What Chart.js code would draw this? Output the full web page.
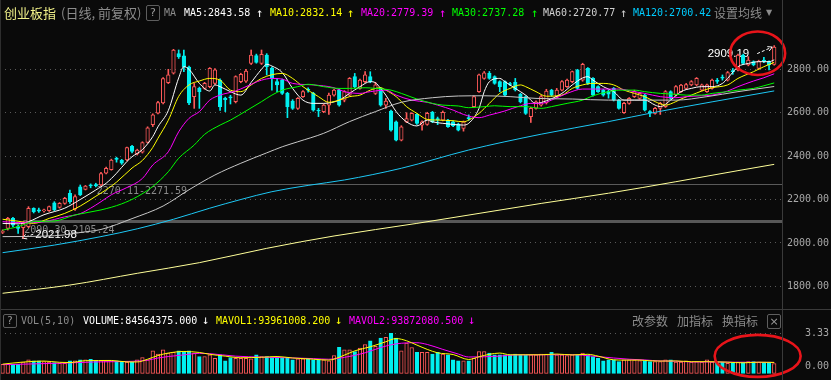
<!DOCTYPE html>
<html><head><meta charset="utf-8">
<script src="https://cdn.jsdelivr.net/npm/chart.js@4/dist/chart.umd.min.js"></script>
<style>
html,body{margin:0;padding:0;background:#0a0a0a;}
#wrap{position:relative;width:831px;height:380px;overflow:hidden;background:#0a0a0a;font-family:'DejaVu Sans Mono',monospace;font-size:10px;}
canvas{position:absolute;left:0;}
.t{position:absolute;white-space:nowrap;}
.r1{top:0;height:26px;line-height:26px;}
.r2{top:309px;height:23px;line-height:23px;}
.cjk{font-family:'Noto Sans CJK SC',sans-serif;}
.box{position:absolute;border:1px solid #5e5e5e;border-radius:2px;color:#9a9a9a;text-align:center;box-sizing:border-box;font-family:'DejaVu Sans',sans-serif;}
.ln{position:absolute;background:#3a3a3a;}
</style></head><body>
<div id="wrap">
<canvas id="main" width="831" height="309" style="top:0"></canvas>
<canvas id="vol" width="831" height="71" style="top:309px"></canvas>
<div class="ln" style="left:0;top:309px;width:831px;height:1px"></div>
<div class="ln" style="left:782px;top:0;width:1px;height:380px"></div>
<div class="ln" style="left:0;top:0;width:1px;height:380px;background:#2e2e2e"></div>

<div class="t r1 cjk" style="left:4px;font-size:13px;color:#f2f28a">创业板指</div>
<div class="t r1 cjk" style="left:61px;font-size:13px;color:#8c8c8c">(日线, 前复权)</div>
<div class="box" style="left:146px;top:5px;width:14px;height:16px;line-height:14px;font-size:11px">?</div>
<div class="t r1" style="left:164px;color:#8c8c8c">MA</div>
<div class="t r1" style="left:184px;color:#ffffff">MA5:2843.58</div>
<div class="t r1" style="left:256px;color:#ffffff;font-size:12px">↑</div>
<div class="t r1" style="left:270px;color:#ffff00">MA10:2832.14</div>
<div class="t r1" style="left:347px;color:#ffff00;font-size:12px">↑</div>
<div class="t r1" style="left:361px;color:#ff00ff">MA20:2779.39</div>
<div class="t r1" style="left:439px;color:#ff00ff;font-size:12px">↑</div>
<div class="t r1" style="left:452px;color:#00ff00">MA30:2737.28</div>
<div class="t r1" style="left:531px;color:#00ff00;font-size:12px">↑</div>
<div class="t r1" style="left:543px;color:#d0d0d0">MA60:2720.77</div>
<div class="t r1" style="left:620px;color:#d0d0d0;font-size:12px">↑</div>
<div class="t r1" style="left:633px;color:#00ccff">MA120:2700.42</div>
<div class="t r1 cjk" style="left:714px;font-size:12px;color:#8c8c8c">设置均线</div>
<div class="t r1" style="left:766px;font-size:8px;color:#8c8c8c;font-family:'DejaVu Sans'">▼</div>

<div class="box" style="left:3px;top:314px;width:14px;height:14px;line-height:12px;font-size:10px">?</div>
<div class="t r2" style="left:21px;color:#8c8c8c">VOL(5,10)</div>
<div class="t r2" style="left:83px;color:#ffffff">VOLUME:84564375.000</div>
<div class="t r2" style="left:202px;color:#ffffff;font-size:12px">↓</div>
<div class="t r2" style="left:216px;color:#ffff00">MAVOL1:93961008.200</div>
<div class="t r2" style="left:335px;color:#ffff00;font-size:12px">↓</div>
<div class="t r2" style="left:349px;color:#ff00ff">MAVOL2:93872080.500</div>
<div class="t r2" style="left:468px;color:#ff00ff;font-size:12px">↓</div>
<div class="t r2 cjk" style="left:632px;font-size:12px;color:#8c8c8c">改参数</div>
<div class="t r2 cjk" style="left:677px;font-size:12px;color:#8c8c8c">加指标</div>
<div class="t r2 cjk" style="left:722px;font-size:12px;color:#8c8c8c">换指标</div>
<div class="box" style="left:767px;top:314px;width:14px;height:15px;line-height:13px;font-size:11px">×</div>
</div>
<script>
// ---------- data ----------
const opens = [2048,2067,2113,2075,2070,2075,2159,2152,2148,2149, 2185,2164,2182,2228,2155,2259,2247,2266,2268,2267,
 2321,2338,2388,2380,2382,2445,2410,2418,2463,2545, 2598,2645,2738,2782,2873,2862,2810,2674,2712,2712,
 2720,2735,2750,2666,2672,2651,2743,2745,2827,2863, 2827,2866,2804,2743,2750,2689,2654,2620,2674,2708,
 2689,2612,2605,2635,2681,2704,2658,2681,2766,2712, 2743,2766,2689,2712,2635,2608,2558,2474,2558,2566,
 2592,2543,2546,2602,2572,2566,2566,2558,2548,2528, 2577,2628,2697,2758,2781,2766,2743,2743,2734,2740,
 2685,2674,2582,2620,2635,2645,2704,2674,2704,2720, 2743,2797,2750,2804,2758,2720,2704,2700,2712,2658,
 2600,2643,2674,2666,2681,2603,2597,2620,2628,2697, 2681,2697,2712,2728,2728,2704,2697,2712,2747,2762,
 2750,2792,2797,2866,2820,2835,2804,2842,2835,2823];
const closes = [2054,2113,2082,2067,2090,2159,2144,2146,2150,2167, 2152,2182,2205,2190,2213,2221,2262,2263,2264,2320,
 2344,2382,2385,2368,2439,2422,2428,2462,2530,2590, 2647,2757,2775,2888,2858,2812,2645,2720,2697,2735,
 2804,2797,2628,2660,2668,2766,2777,2792,2866,2832, 2869,2812,2758,2728,2689,2628,2620,2666,2697,2704,
 2612,2608,2635,2681,2704,2635,2697,2758,2720,2750, 2774,2743,2728,2635,2654,2520,2474,2535,2573,2597,
 2551,2558,2597,2558,2568,2602,2536,2540,2520,2558, 2573,2674,2774,2784,2758,2735,2720,2681,2730,2705,
 2650,2597,2620,2650,2674,2700,2681,2704,2743,2750, 2789,2712,2823,2735,2681,2697,2681,2685,2658,2620,
 2643,2666,2697,2689,2612,2600,2620,2643,2697,2666, 2720,2727,2730,2743,2758,2728,2728,2750,2744,2759,
 2785,2789,2866,2827,2843,2820,2838,2838,2820,2902];
const highs = [2060,2118,2118,2082,2098,2167,2162,2160,2156,2170, 2190,2186,2210,2244,2221,2267,2265,2272,2275,2325,
 2350,2386,2395,2385,2442,2450,2432,2466,2535,2595, 2652,2762,2800,2892,2889,2889,2815,2735,2718,2740,
 2808,2803,2756,2672,2680,2770,2782,2800,2889,2870, 2889,2872,2810,2758,2755,2694,2660,2670,2702,2715,
 2694,2620,2640,2690,2708,2710,2702,2762,2781,2755, 2789,2789,2740,2716,2666,2612,2562,2540,2600,2600,
 2596,2562,2602,2606,2580,2608,2570,2562,2552,2562, 2590,2678,2778,2790,2790,2770,2747,2747,2740,2758,
 2689,2678,2625,2655,2680,2708,2708,2712,2748,2755, 2792,2800,2828,2808,2762,2724,2708,2705,2716,2662,
 2648,2670,2704,2693,2685,2610,2625,2648,2702,2701, 2725,2731,2735,2748,2762,2732,2732,2755,2758,2774,
 2790,2804,2870,2870,2858,2839,2842,2855,2839,2909.19];
const lows = [2043,2059,2075,2044,2021.98,2070,2138,2140,2142,2145, 2148,2160,2178,2182,2150,2218,2244,2254,2258,2264,
 2318,2335,2372,2362,2378,2415,2405,2414,2460,2536, 2594,2640,2734,2778,2850,2789,2637,2620,2620,2708,
 2715,2730,2610,2605,2640,2645,2738,2740,2822,2828, 2822,2774,2704,2697,2684,2577,2615,2615,2670,2695,
 2607,2582,2600,2592,2676,2630,2650,2676,2715,2708, 2738,2738,2684,2630,2620,2515,2470,2470,2554,2562,
 2546,2520,2542,2554,2545,2562,2532,2536,2516,2515, 2565,2624,2693,2754,2754,2731,2697,2677,2725,2700,
 2645,2592,2555,2616,2630,2640,2676,2670,2700,2716, 2738,2708,2745,2730,2676,2693,2676,2667,2654,2616,
 2597,2639,2670,2662,2608,2582,2593,2592,2624,2662, 2677,2693,2708,2724,2724,2700,2693,2708,2735,2750,
 2746,2777,2793,2823,2816,2816,2800,2830,2797,2819];
// volume in 1e8 shares
const volumes = [0.79,0.79,0.79,0.79,0.96,1.15,1.06,1.06,1.01,0.96, 0.93,0.87,0.87,1.06,1.06,1.15,1.15,1.20,1.09,1.09,
 1.06,1.06,1.06,0.96,0.96,0.96,1.15,1.34,1.15,1.88, 1.61,1.97,1.69,1.75,1.88,1.83,1.88,1.69,1.42,1.42,
 1.56,1.28,1.56,1.06,1.34,1.28,1.28,1.28,1.23,1.56, 1.42,1.42,1.34,1.34,1.28,1.34,1.15,1.23,1.23,1.28,
 1.15,1.15,1.15,1.06,1.50,2.16,1.97,1.97,1.83,2.10, 2.38,2.70,2.24,2.92,2.98,3.33,2.92,1.88,2.51,2.15,
 1.75,1.75,1.75,1.61,1.75,1.61,1.56,1.15,1.06,1.06, 1.06,1.28,1.83,1.83,1.69,1.56,1.56,1.56,1.56,1.61,
 1.56,1.56,1.56,1.56,1.61,1.61,1.75,1.56,1.56,1.50, 1.56,1.56,1.69,1.56,1.42,1.28,1.06,1.15,1.15,1.01,
 1.15,1.15,1.15,1.09,1.09,1.01,1.01,1.01,1.15,1.15, 0.96,0.96,1.06,0.96,1.01,0.96,1.15,0.96,0.96,0.96,
 0.87,0.87,0.96,0.96,1.01,1.01,0.96,0.96,0.96,0.85];
// moving-average lines: [day index, value]
const ma5Pts = [[0,2090],[3,2088],[5,2098],[8,2130],[12,2160],[15,2200],[18,2244],[20,2275],[22,2321],[24,2375],[25,2397],[27,2430],[29,2490],[30,2535],[32,2610],[34,2760],[35,2812],[36,2800],[38,2735],[40,2700],[41,2728],[42,2720],[44,2697],[46,2681],[48,2740],[50,2800],[51,2823],[52,2815],[54,2785],[56,2712],[58,2658],[60,2643],[62,2643],[65,2658],[67,2689],[69,2720],[71,2743],[72,2738],[73,2712],[74,2681],[76,2605],[78,2558],[80,2539],[82,2566],[83,2558],[85,2551],[87,2546],[89,2543],[90,2551],[92,2620],[93,2697],[94,2743],[96,2758],[97,2743],[99,2712],[101,2681],[103,2643],[105,2655],[108,2689],[110,2728],[112,2760],[113,2766],[114,2750],[116,2720],[118,2697],[120,2658],[122,2658],[124,2658],[126,2635],[127,2628],[129,2658],[131,2697],[133,2712],[135,2720],[137,2720],[139,2735],[140,2758],[142,2812],[144,2827],[146,2835],[148,2835],[149,2843.58]];
const ma10Pts = [[0,2109],[3,2100],[6,2090],[9,2113],[12,2136],[15,2170],[18,2215],[20,2245],[22,2280],[25,2345],[27,2380],[29,2440],[30,2482],[32,2565],[34,2675],[36,2728],[38,2746],[40,2758],[42,2750],[44,2704],[46,2697],[48,2728],[50,2758],[52,2775],[54,2781],[56,2758],[58,2720],[61,2674],[63,2648],[65,2658],[67,2674],[69,2681],[71,2704],[73,2715],[74,2704],[76,2674],[78,2628],[80,2597],[82,2569],[84,2566],[87,2563],[89,2558],[90,2566],[92,2597],[94,2643],[96,2689],[98,2712],[100,2728],[101,2720],[103,2697],[105,2676],[108,2681],[110,2712],[112,2728],[114,2735],[116,2735],[118,2728],[120,2704],[122,2689],[124,2674],[126,2651],[128,2635],[130,2651],[131,2663],[133,2681],[135,2700],[137,2715],[140,2728],[142,2758],[145,2789],[147,2812],[149,2832.14]];
const ma20Pts = [[0,2098],[4,2093],[8,2098],[12,2120],[15,2135],[17,2160],[19,2190],[21,2222],[24,2255],[27,2297],[29,2359],[32,2420],[34,2512],[36,2574],[38,2605],[40,2658],[42,2681],[45,2700],[47,2720],[50,2750],[52,2758],[54,2755],[56,2735],[60,2728],[64,2715],[66,2697],[69,2689],[71,2697],[74,2704],[76,2681],[79,2658],[82,2648],[84,2635],[87,2612],[89,2592],[92,2577],[94,2589],[97,2608],[100,2632],[102,2643],[104,2643],[106,2658],[109,2689],[112,2709],[116,2709],[119,2709],[122,2697],[124,2689],[127,2674],[130,2669],[132,2674],[135,2678],[137,2681],[140,2700],[142,2720],[145,2746],[147,2761],[149,2779.39]];
const ma30Pts = [[0,2059],[3,2075],[6,2098],[10,2101],[14,2129],[19,2152],[23,2180],[26,2213],[29,2260],[32,2328],[34,2390],[37,2451],[39,2500],[42,2543],[44,2566],[47,2608],[50,2651],[52,2681],[54,2704],[57,2720],[59,2731],[62,2720],[65,2712],[67,2712],[70,2715],[72,2712],[75,2704],[77,2689],[80,2663],[83,2643],[85,2635],[88,2631],[90,2623],[93,2628],[95,2632],[98,2628],[101,2628],[104,2620],[106,2628],[109,2643],[112,2658],[114,2678],[117,2697],[119,2704],[122,2704],[124,2697],[127,2689],[130,2685],[132,2681],[135,2681],[137,2689],[140,2697],[142,2704],[145,2712],[147,2724],[149,2737.28]];
const ma60Pts = [[0,2029],[8,2031],[12,2037],[15,2048],[19,2062],[25,2112],[31,2170],[36,2245],[41,2313],[46,2367],[51,2415],[54,2443],[57,2466],[62,2505],[67,2559],[72,2605],[77,2648],[83,2669],[88,2677],[93,2678],[98,2674],[103,2666],[110,2663],[117,2658],[123,2658],[130,2658],[136,2674],[142,2697],[149,2720.77]];
const ma120Pts = [[0,1955],[10,1990],[19,2029],[26,2065],[33,2109],[40,2160],[46,2200],[52,2236],[59,2265],[66,2290],[77,2344],[90,2428],[104,2501],[117,2559],[126,2602],[137,2650],[149,2700.42]];
const ma250Pts = [[0,1768],[13,1806],[26,1860],[38,1909],[51,1975],[64,2032],[80,2090],[104,2182],[117,2229],[130,2282],[142,2333],[149,2362]];
const mavol1Pts = [[0,0.80],[4,0.97],[8,1.05],[11,0.95],[13,0.93],[16,1.08],[21,1.10],[24,0.98],[26,0.98],[28,1.20],[30,1.50],[32,1.70],[35,1.83],[38,1.75],[40,1.60],[43,1.45],[46,1.32],[50,1.36],[53,1.42],[56,1.30],[60,1.20],[63,1.13],[65,1.36],[68,1.88],[71,2.21],[74,2.62],[76,2.88],[78,2.70],[80,2.35],[82,2.00],[84,1.72],[87,1.58],[90,1.18],[92,1.40],[94,1.60],[96,1.70],[98,1.56],[101,1.56],[104,1.56],[107,1.62],[110,1.55],[113,1.60],[115,1.45],[118,1.15],[120,1.13],[123,1.13],[125,1.07],[128,1.05],[130,1.06],[133,1.00],[136,1.00],[140,0.96],[143,0.91],[146,0.96],[149,0.94]];
const mavol2Pts = [[0,0.76],[6,0.82],[12,0.89],[18,0.98],[25,1.03],[28,1.12],[30,1.30],[32,1.42],[35,1.55],[38,1.68],[40,1.65],[45,1.45],[50,1.37],[55,1.32],[60,1.25],[63,1.20],[66,1.35],[70,1.72],[73,2.15],[76,2.45],[80,2.54],[82,2.40],[85,2.00],[88,1.62],[90,1.38],[93,1.40],[96,1.45],[99,1.55],[104,1.56],[110,1.57],[114,1.45],[118,1.30],[121,1.20],[124,1.14],[127,1.06],[130,1.04],[133,0.98],[137,0.98],[141,0.96],[145,0.95],[149,0.94]];
// drawn price bands: low, high, starting day
const bandLow = [2090.30, 2270.11];
const bandHigh = [2105.24, 2271.59];
const bandStart = [4, 18];
const priceTicks = [1800, 2000, 2200, 2400, 2600, 2800];
const volTicks = [0, 3.33];
// 151 day slots (the last one is left empty)
const days = Array.from({length: 151}, (_, k) => 'D' + (k + 1));

// ---------- helpers ----------
const RED = '#ff5a5a', CYAN = '#00f0f0', BG = '#0a0a0a';
const isUp = opens.map((o, k) => closes[k] >= o);
function fromPairs(pairs) { const a = new Array(opens.length).fill(null); pairs.forEach(([i, v]) => { a[i] = v; }); return a; }
function maLine(label, pairs, color) {
  return {type: 'line', label, data: fromPairs(pairs), borderColor: color, borderWidth: 1, pointRadius: 0,
          spanGaps: true, cubicInterpolationMode: 'monotone', order: 0};
}
const MONO = '"DejaVu Sans Mono", monospace';
const noPad = s => { s.width = 49; s.paddingTop = 0; s.paddingBottom = 0; };

function arrow(ctx, x1, y1, x2, y2) {
  ctx.beginPath(); ctx.setLineDash([3, 2]); ctx.moveTo(x1, y1); ctx.lineTo(x2, y2); ctx.stroke();
  ctx.setLineDash([]);
  const a = Math.atan2(y2 - y1, x2 - x1);
  ctx.beginPath();
  ctx.moveTo(x2 - 5 * Math.cos(a - 0.5), y2 - 5 * Math.sin(a - 0.5));
  ctx.lineTo(x2, y2);
  ctx.lineTo(x2 - 5 * Math.cos(a + 0.5), y2 - 5 * Math.sin(a + 0.5));
  ctx.stroke();
}

const mainDeco = {
  id: 'mainDeco',
  beforeDatasetsDraw(chart) {
    const {ctx, chartArea: ca, scales: {x, y}} = chart;
    ctx.save();
    bandLow.forEach((lo, k) => {
      const x0 = x.getPixelForValue(bandStart[k]);
      const yt = y.getPixelForValue(bandHigh[k]);
      const yb = y.getPixelForValue(lo);
      ctx.fillStyle = k === 0 ? '#585858' : '#5a5a5a';
      ctx.fillRect(x0, Math.round(yt), ca.right - x0, Math.max(1, Math.round(yb - yt)));
      ctx.fillStyle = '#8a8a8a';
      ctx.font = '10px ' + MONO;
      ctx.textBaseline = 'top'; ctx.textAlign = 'left';
      ctx.fillText(lo.toFixed(2) + '-' + bandHigh[k].toFixed(2), x0 + 1, yb + 2);
    });
    // highest / lowest labels
    let hi = 0, lo = 0;
    highs.forEach((v, k) => { if (v > highs[hi]) hi = k; });
    lows.forEach((v, k) => { if (v < lows[lo]) lo = k; });
    ctx.fillStyle = '#ffffff'; ctx.strokeStyle = '#ffffff'; ctx.lineWidth = 1;
    ctx.font = '11.5px "Liberation Sans", Arial, sans-serif';
    ctx.textBaseline = 'alphabetic';
    const hx = x.getPixelForValue(hi), hy = y.getPixelForValue(highs[hi]);
    ctx.textAlign = 'right';
    ctx.fillText(highs[hi].toFixed(2), hx - 25, hy + 11.5);
    arrow(ctx, hx - 17, hy + 8, hx - 2, hy + 1.5);
    const lx = x.getPixelForValue(lo), ly = y.getPixelForValue(lows[lo]);
    ctx.textAlign = 'left';
    ctx.fillText(lows[lo].toFixed(2), lx + 12, ly - 0.5);
    arrow(ctx, lx + 10, ly - 4, lx - 1, ly);
    ctx.restore();
  },
  afterDatasetsDraw(chart) {
    const {ctx, scales: {x, y}} = chart;
    ctx.save();
    ctx.strokeStyle = '#e8141a'; ctx.lineWidth = 2.6;
    ctx.beginPath();
    ctx.ellipse(x.getPixelForValue(145.8), y.getPixelForValue(2874), 27.5, 21.7, 0, 0, Math.PI * 2);
    ctx.stroke();
    ctx.restore();
  }
};

const volDeco = {
  id: 'volDeco',
  afterDatasetsDraw(chart) {
    const {ctx, scales: {x, y}} = chart;
    ctx.save();
    ctx.fillStyle = '#a8a8a8'; ctx.font = '10px ' + MONO;
    ctx.textAlign = 'right'; ctx.textBaseline = 'middle';
    ctx.fillText(volTicks[1].toFixed(2), 829, y.getPixelForValue(volTicks[1]) + 0.5);
    ctx.fillText(volTicks[0].toFixed(2), 829, y.getPixelForValue(volTicks[0]) - 8);
    ctx.strokeStyle = '#e8141a'; ctx.lineWidth = 2.6;
    ctx.beginPath();
    ctx.ellipse(x.getPixelForValue(145.8), y.getPixelForValue(1.47), 43, 21, 0, 0, Math.PI * 2);
    ctx.stroke();
    ctx.restore();
  }
};

const common = {
  responsive: false, animation: false, events: [],
  plugins: {legend: {display: false}, tooltip: {enabled: false}},
};

new Chart(document.getElementById('main'), {
  type: 'bar',
  data: {
    labels: days,
    datasets: [
      maLine('MA250', ma250Pts, '#ffff99'),
      maLine('MA120', ma120Pts, '#1ec8f5'),
      maLine('MA60', ma60Pts, '#c8c8c8'),
      maLine('MA30', ma30Pts, '#00ff00'),
      maLine('MA20', ma20Pts, '#ff00ff'),
      maLine('MA10', ma10Pts, '#ffff00'),
      maLine('MA5', ma5Pts, '#ffffff'),
      {label: 'body', data: opens.map((o, k) => [o, closes[k]]), grouped: false, order: 1,
       barThickness: 3.6, minBarLength: 1, borderWidth: 1, borderSkipped: false,
       backgroundColor: isUp.map(u => u ? BG : CYAN), borderColor: isUp.map(u => u ? RED : CYAN)},
      {label: 'wick', data: lows.map((l, k) => [l, highs[k]]), grouped: false, order: 2,
       barThickness: 1, borderWidth: 0, backgroundColor: isUp.map(u => u ? RED : CYAN)}
    ]
  },
  options: {
    ...common,
    layout: {padding: {top: 27, left: 0, right: 0, bottom: 0}},
    scales: {
      x: {display: false, offset: true},
      y: {position: 'right', min: 1695.5, max: 2994.9,
          afterBuildTicks: s => { s.ticks = priceTicks.map(v => ({value: v})); },
          afterFit: noPad,
          grid: {color: '#5a5a5a', drawTicks: false, lineWidth: 1},
          border: {display: false, dash: [1, 4]},
          ticks: {color: '#a8a8a8', font: {family: 'DejaVu Sans Mono', size: 10}, padding: 5,
                  callback: v => Number(v).toFixed(2)}}
    }
  },
  plugins: [mainDeco]
});

new Chart(document.getElementById('vol'), {
  type: 'bar',
  data: {
    labels: days,
    datasets: [
      {type: 'line', label: 'MAVOL1', data: fromPairs(mavol1Pts), borderColor: '#ffff00', borderWidth: 1, pointRadius: 0, spanGaps: true, cubicInterpolationMode: 'monotone', order: 0},
      {type: 'line', label: 'MAVOL2', data: fromPairs(mavol2Pts), borderColor: '#ff00ff', borderWidth: 1, pointRadius: 0, spanGaps: true, cubicInterpolationMode: 'monotone', order: 0},
      {label: 'VOL', data: volumes, order: 1, barThickness: 3.6, borderWidth: 1, borderSkipped: false,
       backgroundColor: isUp.map(u => u ? BG : CYAN), borderColor: isUp.map(u => u ? RED : CYAN)}
    ]
  },
  options: {
    ...common,
    layout: {padding: {top: 24, left: 0, right: 0, bottom: 6}},
    scales: {
      x: {display: false, offset: true},
      y: {position: 'right', min: 0, max: 3.33,
          afterBuildTicks: s => { s.ticks = volTicks.map(v => ({value: v})); },
          afterFit: noPad,
          grid: {color: c => (c.tick && c.tick.value > 0) ? '#5a5a5a' : 'rgba(0,0,0,0)', drawTicks: false},
          border: {display: false, dash: [1, 4]},
          ticks: {display: false}}
    }
  },
  plugins: [volDeco]
});
</script>
</body></html>
